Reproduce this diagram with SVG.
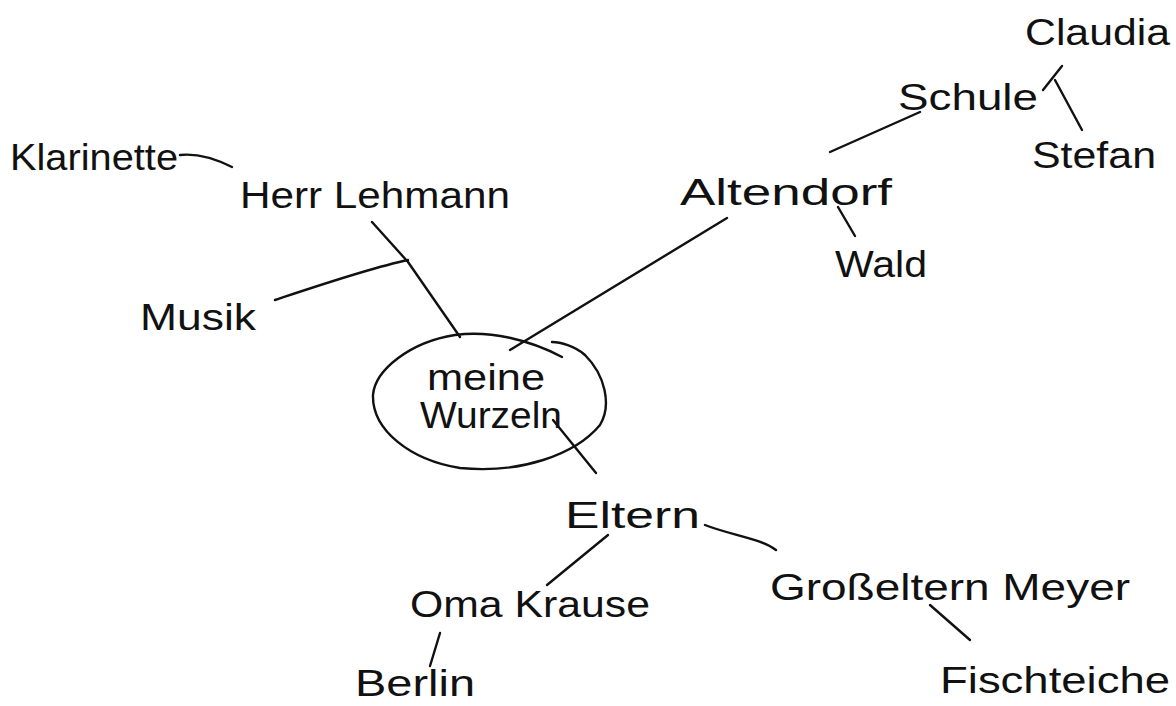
<svg xmlns="http://www.w3.org/2000/svg" width="1176" height="706" viewBox="0 0 1176 706">
<style>
.bg{fill:#ffffff}
.t{font-family:"Liberation Sans","DejaVu Sans",sans-serif;font-size:37px;fill:#111}
.l{fill:none;stroke:#111;stroke-width:2.4;stroke-linecap:round;stroke-linejoin:round}
</style>
<rect class="bg" x="0" y="0" width="1176" height="706"/>
<g id="connectors">
<path class="l" d="M180,155 C198,153 214,158 232,167"/>
<path class="l" d="M372,222 L408,262 L460,337"/>
<path class="l" d="M275,300 C320,285 370,268 408,260"/>
<path class="l" d="M727,218 L510,350"/>
<path class="l" d="M830,152 L920,112"/>
<path class="l" d="M1043,90 L1062,66"/>
<path class="l" d="M1055,80 L1082,130"/>
<path class="l" d="M838,207 L855,236"/>
<path class="l" d="M553,420 L596,473"/>
<path class="l" d="M608,535 L547,585"/>
<path class="l" d="M705,525 C730,535 760,538 776,550"/>
<path class="l" d="M930,605 L970,640"/>
<path class="l" d="M440,633 L430,666"/>
</g>
<g id="n-center">
<path class="l" d="M562,357 C530,340 490,330 455,335 C410,342 375,370 373,395 C372,430 410,460 460,468 C520,474 575,455 600,425 C612,405 605,375 585,355 C575,346 560,342 552,342"/>
<text class="t" x="486" y="390" text-anchor="middle" textLength="118" lengthAdjust="spacingAndGlyphs">meine</text>
<text class="t" x="420" y="428" textLength="142" lengthAdjust="spacingAndGlyphs">Wurzeln</text>
</g>
<g id="n-klarinette"><text class="t" x="10" y="170" textLength="168" lengthAdjust="spacingAndGlyphs">Klarinette</text></g>
<g id="n-lehmann"><text class="t" x="240" y="208" textLength="270" lengthAdjust="spacingAndGlyphs">Herr Lehmann</text></g>
<g id="n-musik"><text class="t" x="140" y="330" textLength="116" lengthAdjust="spacingAndGlyphs">Musik</text></g>
<g id="n-altendorf"><text class="t" x="680" y="205" textLength="212" lengthAdjust="spacingAndGlyphs">Altendorf</text></g>
<g id="n-schule"><text class="t" x="898" y="110" textLength="140" lengthAdjust="spacingAndGlyphs">Schule</text></g>
<g id="n-claudia"><text class="t" x="1025" y="45" textLength="145" lengthAdjust="spacingAndGlyphs">Claudia</text></g>
<g id="n-stefan"><text class="t" x="1032" y="168" textLength="124" lengthAdjust="spacingAndGlyphs">Stefan</text></g>
<g id="n-wald"><text class="t" x="835" y="277" textLength="92" lengthAdjust="spacingAndGlyphs">Wald</text></g>
<g id="n-eltern"><text class="t" x="565" y="528" textLength="135" lengthAdjust="spacingAndGlyphs">Eltern</text></g>
<g id="n-oma"><text class="t" x="410" y="617" textLength="240" lengthAdjust="spacingAndGlyphs">Oma Krause</text></g>
<g id="n-berlin"><text class="t" x="355" y="696" textLength="120" lengthAdjust="spacingAndGlyphs">Berlin</text></g>
<g id="n-grosseltern"><text class="t" x="770" y="600" textLength="360" lengthAdjust="spacingAndGlyphs">Großeltern Meyer</text></g>
<g id="n-fischteiche"><text class="t" x="940" y="693" textLength="230" lengthAdjust="spacingAndGlyphs">Fischteiche</text></g>
</svg>
